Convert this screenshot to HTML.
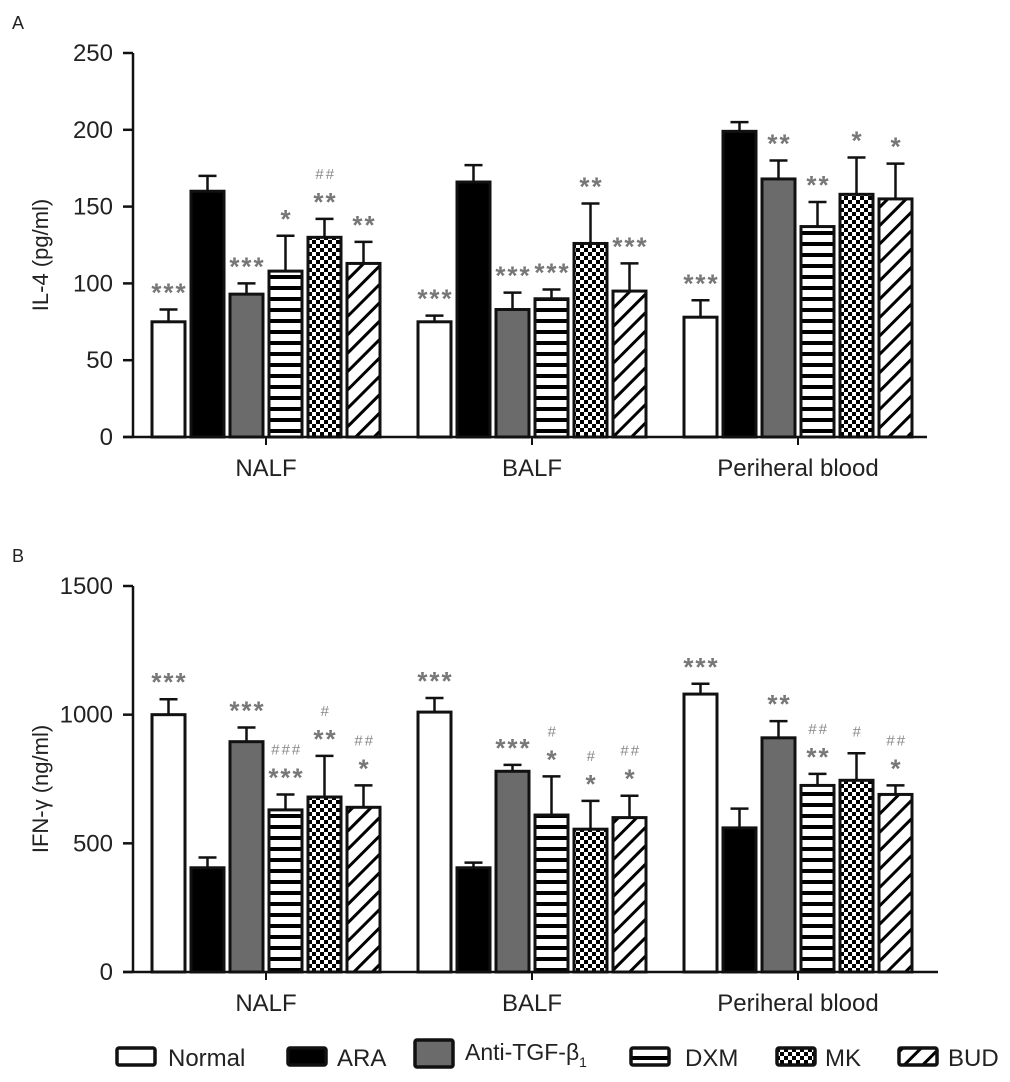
<!DOCTYPE html>
<html><head><meta charset="utf-8">
<style>
html,body{margin:0;padding:0;background:#fff;}
svg{display:block;font-family:"Liberation Sans",Arial,sans-serif;}
</style></head>
<body>
<svg id="chart" width="1010" height="1082" viewBox="0 0 1010 1082" xmlns="http://www.w3.org/2000/svg">
<defs>
<pattern id="pHoriz" patternUnits="userSpaceOnUse" width="8" height="11"><rect width="8" height="11" fill="#fff"/><rect y="0" width="8" height="4" fill="#000"/></pattern>
<pattern id="pCheck" patternUnits="userSpaceOnUse" width="8" height="8"><rect width="8" height="8" fill="#fff"/><rect width="4" height="4" fill="#000"/><rect x="4" y="4" width="4" height="4" fill="#000"/></pattern>
<pattern id="pDiag" patternUnits="userSpaceOnUse" width="13" height="13" patternTransform="rotate(45)"><rect width="13" height="13" fill="#fff"/><rect width="3" height="13" fill="#000"/></pattern>
</defs>
<g id="root"></g>
</svg>
<script>
const groups = ["NALF","BALF","Periheral blood"];
const seriesNames = ["Normal","ARA","Anti-TGF-β1","DXM","MK","BUD"];
const il4Values = [[75,160,93,108,130,113],[75,166,83,90,126,95],[78,199,168,137,158,155]];
const il4Errors = [[8,10,7,23,12,14],[4,11,11,6,26,18],[11,6,12,16,24,23]];
const il4Stars = [["***","","***","*","**","**"],["***","","***","***","**","***"],["***","","**","**","*","*"]];
const il4Hash = [["","","","","##",""],["","","","","",""],["","","","","",""]];
const ifnValues = [[1000,405,895,630,680,640],[1010,405,780,610,555,600],[1080,560,910,725,745,690]];
const ifnErrors = [[60,40,55,60,160,85],[55,20,25,150,110,85],[40,75,65,45,105,35]];
const ifnStars = [["***","","***","***","**","*"],["***","","***","*","*","*"],["***","","**","**","","*"]];
const ifnHash = [["","","","###","#","##"],["","","","#","#","##"],["","","","##","#","##"]];
const il4Ticks = [0,50,100,150,200,250];
const ifnTicks = [0,500,1000,1500];

const fills = ["#fff","#000","#6b6b6b","url(#pHoriz)","url(#pCheck)","url(#pDiag)"];
const NS="http://www.w3.org/2000/svg";
const root=document.getElementById('root');
function mk(tag,attrs,parent,text){const e=document.createElementNS(NS,tag);for(const k in attrs)e.setAttribute(k,attrs[k]);if(text!==undefined)e.textContent=text;(parent||root).appendChild(e);return e;}

function panel(opt){
  const g=mk('g',{});
  
  
  const x0=133, xEnd=opt.xEnd, y0=opt.y0, yTop=opt.yTop, max=opt.max;
  const y=v=>y0-(v/max)*(y0-yTop);
  const bx=(gi,si)=>152+gi*266+si*39;
  const bw=33;
  const lbl=mk('text',{x:12,y:yTop-24,'font-size':18,fill:'#222'},g,opt.letter);
  
  
  const ya=mk('line',{x1:x0,y1:yTop,x2:x0,y2:y0+1,stroke:'#111','stroke-width':2.5},g);
  
  
  const xa=mk('line',{x1:x0-10,y1:y0,x2:xEnd,y2:y0,stroke:'#111','stroke-width':2.5},g);
  
  
  opt.ticks.forEach(t=>{
    mk('line',{x1:x0-10,y1:y(t),x2:x0,y2:y(t),stroke:'#111','stroke-width':2.5},g);
    const tl=mk('text',{x:x0-20,y:y(t)+8,'font-size':24,'text-anchor':'end',fill:'#222'},g,t);
    
    
  });
  const yt=mk('text',{transform:`translate(48,${(y0+yTop)/2+10}) rotate(-90)`,'font-size':22,'text-anchor':'middle',fill:'#222'},g,opt.ytitle);
  
  
  groups.forEach((gn,gi)=>{
    const cx=bx(gi,0)+(bx(gi,5)+bw-bx(gi,0))/2;
    mk('line',{x1:cx,y1:y0,x2:cx,y2:y0+8,stroke:'#111','stroke-width':2},g);
    const gl=mk('text',{x:cx,y:y0+39,'font-size':24,'text-anchor':'middle',fill:'#222'},g,gn);
    
    
    opt.values[gi].forEach((v,si)=>{
      const X=bx(gi,si), top=y(v), et=y(v+opt.errors[gi][si]);
      const eb=mk('line',{x1:X+bw/2,y1:top,x2:X+bw/2,y2:et,stroke:'#111','stroke-width':2.5},g);
      
      
      mk('line',{x1:X+bw/2-9,y1:et,x2:X+bw/2+9,y2:et,stroke:'#111','stroke-width':2.5},g);
      const r=mk('rect',{x:X,y:top,width:bw,height:y0-top,fill:fills[si],stroke:'#111','stroke-width':3},g);
      
      
      const s=opt.stars[gi][si], h=opt.hash[gi][si];
      let c=et-23;
      if(s){const st=mk('text',{x:X+bw/2+1,y:c+15,'font-size':26,'font-weight':'bold','text-anchor':'middle','letter-spacing':2,fill:'#777'},g,s);
        
        c-=23;}
      else c-=0;
      if(h){const ht=mk('text',{x:X+bw/2+1,y:c+6,'font-size':15,'text-anchor':'middle','letter-spacing':2,fill:'#888','font-style':'italic'},g,h);
        
        }
    });
  });
}
panel({name:'panel-a-il4',letter:'A',y0:437,yTop:53,max:250,xEnd:927,ticks:il4Ticks,values:il4Values,errors:il4Errors,stars:il4Stars,hash:il4Hash,ytitle:'IL-4 (pg/ml)'});
panel({name:'panel-b-ifn',letter:'B',y0:972,yTop:586,max:1500,xEnd:938,ticks:ifnTicks,values:ifnValues,errors:ifnErrors,stars:ifnStars,hash:ifnHash,ytitle:'IFN-γ (ng/ml)'});

const leg=mk('g',{});


const legBox=[117,288,415,631,777,899];
const legText=[168,337,465,685,825,948];
seriesNames.forEach((n,i)=>{
  const e=mk('g',{},leg);
  
  
  const big=i===2;
  const w=big?38:38,h=big?27:17, yy=big?1040:1048;
  mk('rect',{x:legBox[i],y:yy,width:w,height:h,fill:fills[i],stroke:'#111','stroke-width':3.5,rx:2},e);
  if(big){
    const t=mk('text',{x:legText[i],y:1060,'font-size':23,fill:'#222'},e,'Anti-TGF-β');
    mk('tspan',{'font-size':14,dy:7},t,'1');
  } else {
    mk('text',{x:legText[i],y:1066,'font-size':24,fill:'#222'},e,n);
  }
});
</script>
</body></html>
